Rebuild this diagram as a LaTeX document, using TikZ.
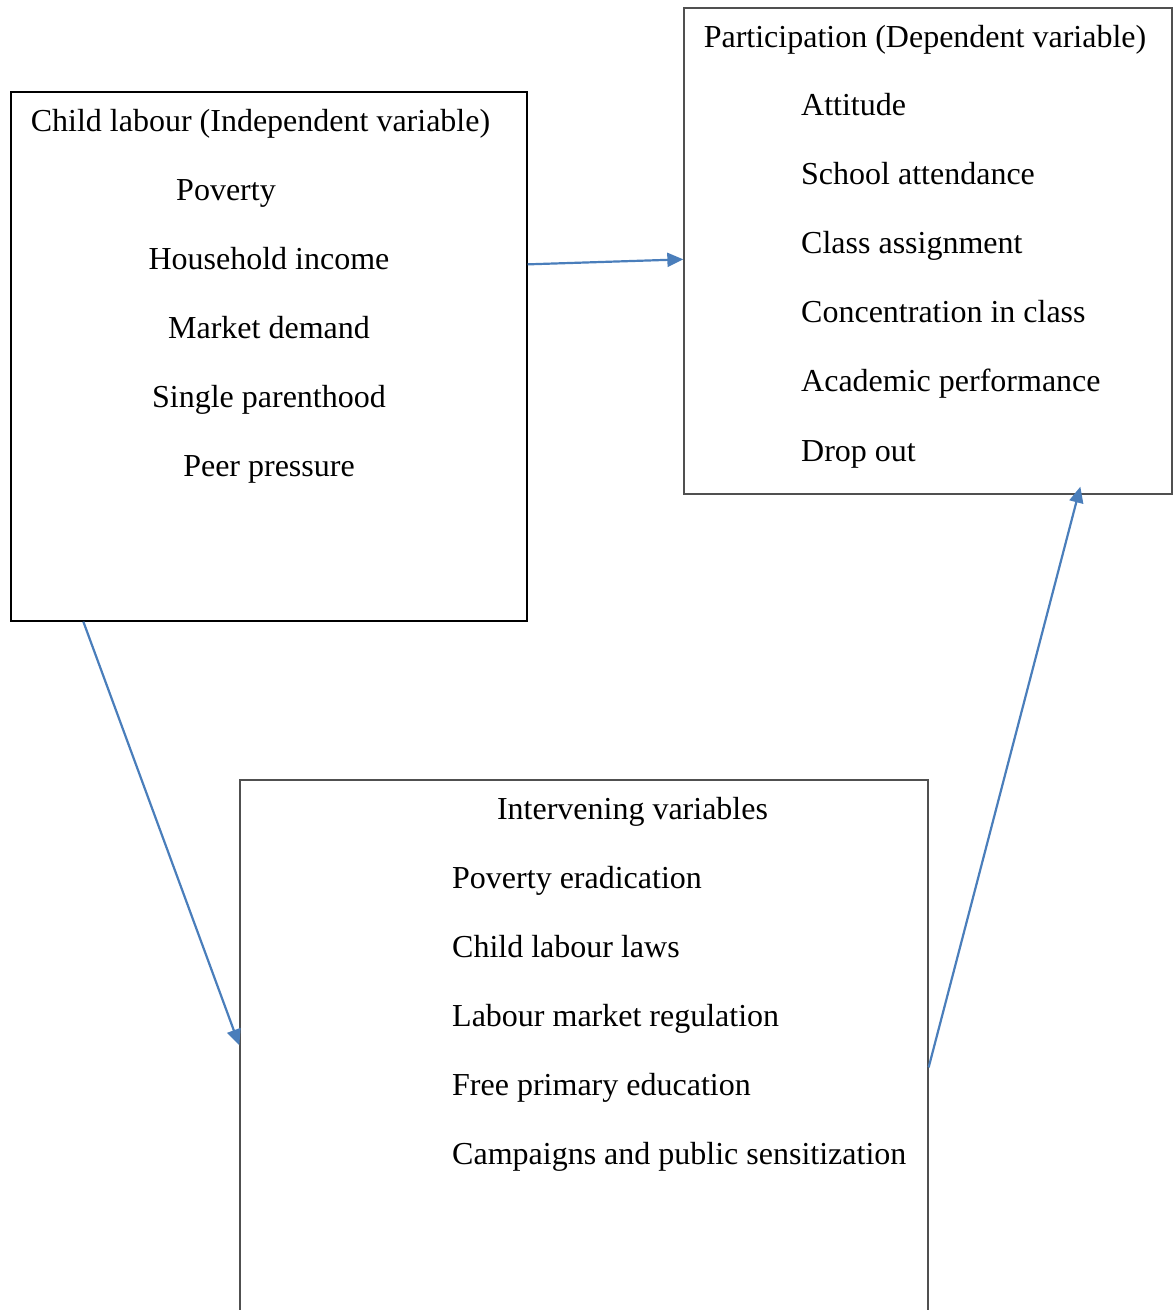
\documentclass[tikz,border=0pt]{standalone}
\usepackage{fontspec}
\setmainfont{Liberation Serif}
\usetikzlibrary{arrows.meta,calc}
\definecolor{arrowblue}{HTML}{4A7EBB}
\definecolor{framegray}{HTML}{505050}
\begin{document}
\begin{tikzpicture}[x=1pt,y=-1pt,
  box/.style={draw, line width=1.3pt, inner sep=0pt},
  item/.style={anchor=base west, inner sep=0pt, font=\fontsize{32}{38}\selectfont},
  head/.style={anchor=base, inner sep=0pt, font=\fontsize{32}{38}\selectfont},
  link/.style={draw=arrowblue, line width=2.2pt, -{Triangle[length=16pt,width=14pt]}}]
\useasboundingbox (0,0) rectangle (1176,1310);
\clip (0,0) rectangle (1176,1310);

% Kaesten
\node[box, minimum width=516pt, minimum height=529pt] (indep) at (269,356.5) {};
\node[box, draw=framegray, minimum width=488pt, minimum height=486pt] (dep) at (928,251) {};
\node[box, draw=framegray, minimum width=688pt, minimum height=560pt] (inter) at (584,1060) {};

% unabhaengige Variable
\node[head] (indeptitle) at (260.5,131) {Child labour (Independent variable)};
\node[head] (poverty) at (226,200) {Poverty};
\node[head] (income) at (269,269) {Household income};
\node[head] (market) at (269,338) {Market demand};
\node[head] (single) at (269,407) {Single parenthood};
\node[head] (peer) at (269,476) {Peer pressure};

% abhaengige Variable
\node[head] (deptitle) at (925,47) {Participation (Dependent variable)};
\foreach \txt [count=\i from 0] in {Attitude, School attendance, Class assignment,
    Concentration in class, Academic performance, Drop out} {
  \node[item] (dep\i) at (801,115+69.2*\i) {\txt};
}

% intervenierende Variablen
\node[head] (intertitle) at (632.5,819) {Intervening variables};
\foreach \txt [count=\i from 0] in {Poverty eradication, Child labour laws,
    Labour market regulation, Free primary education,
    Campaigns and public sensitization} {
  \node[item] (inter\i) at (452,888+69*\i) {\txt};
}

% Pfeile
\coordinate (a1s) at ($(indep.north east)+(0,173)$);
\coordinate (a1e) at ($(dep.north west)+(0,252)$);
\coordinate (a2s) at ($(indep.south west)+(73,0)$);
\coordinate (a2e) at ($(inter.north west)+(0,266)$);
\coordinate (a3s) at ($(inter.north east)+(0,288)$);
\coordinate (a3e) at ($(dep.south west)+(397,-8)$);
\draw[link] (a1s) -- (a1e);
\draw[link] (a2s) -- (a2e);
\draw[link] (a3s) -- (a3e);
\end{tikzpicture}
\end{document}
